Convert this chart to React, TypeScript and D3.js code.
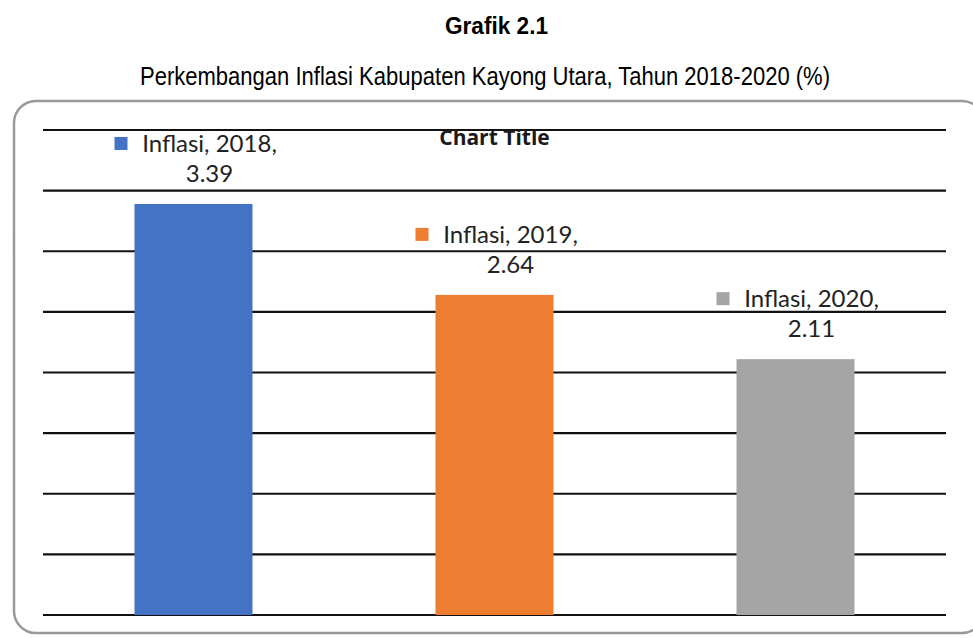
import React from "react";
import * as d3 from "d3";

const categories: string[] = ["2018", "2019", "2020"];
const seriesName = "Inflasi";
const values: number[] = [3.39, 2.64, 2.11];
const valueLabels: string[] = ["3.39", "2.64", "2.11"];
const colors: string[] = ["#4472C4", "#ED7D31", "#A5A5A5"];
const yTicks: number[] = [0, 0.5, 1, 1.5, 2, 2.5, 3, 3.5, 4];

const W = 973;
const H = 638;
const plot = { left: 43, right: 946, top: 130, bottom: 615 };

export default function App() {
  const x = d3
    .scaleBand<string>()
    .domain(categories)
    .range([plot.left, plot.right])
    .paddingInner(0.608)
    .paddingOuter(0.304);
  const y = d3.scaleLinear().domain([0, 4]).range([plot.bottom, plot.top]);

  const labelFont = "Lato, 'Open Sans', sans-serif";
  const titleFont = "'Liberation Sans', Arial, sans-serif";

  return (
    <div style={{ position: "absolute", left: 0, top: 0 }}>
      <svg width={W} height={H} style={{ display: "block", background: "#fff" }}>
        <text
          x={445}
          y={34}
          textLength={103}
          lengthAdjust="spacingAndGlyphs"
          fontFamily={titleFont}
          fontWeight="bold"
          fontSize={24}
          fill="#000"
        >
          Grafik 2.1
        </text>
        <text
          x={140}
          y={85}
          textLength={690}
          lengthAdjust="spacingAndGlyphs"
          fontFamily={titleFont}
          fontSize={26}
          fill="#000"
        >
          Perkembangan Inflasi Kabupaten Kayong Utara, Tahun 2018-2020 (%)
        </text>

        <rect
          x={14}
          y={101}
          width={970}
          height={532}
          rx={22}
          ry={22}
          fill="#fff"
          stroke="#999"
          strokeWidth={2.5}
        />

        {yTicks.map((t) => (
          <line
            key={t}
            x1={plot.left}
            x2={plot.right}
            y1={y(t)}
            y2={y(t)}
            stroke="#111"
            strokeWidth={2.2}
          />
        ))}

        <text
          x={(plot.left + plot.right) / 2}
          y={145}
          textAnchor="middle"
          fontFamily="'Open Sans', Lato, sans-serif"
          fontWeight="bold"
          fontSize={21}
          fill="#1a1a1a"
        >
          Chart Title
        </text>

        {categories.map((c, i) => {
          const bx = x(c) as number;
          const bw = x.bandwidth();
          const top = y(values[i]);
          const cx = bx + bw / 2;
          const tx = cx + 16;
          const line2 = top - 22;
          const line1 = line2 - 30;
          return (
            <g key={c}>
              <rect x={bx} y={top} width={bw} height={y(0) - top} fill={colors[i]} />
              <rect x={cx - 79} y={line1 - 15} width={13} height={13} fill={colors[i]} />
              <text
                x={tx}
                y={line1}
                textAnchor="middle"
                fontFamily={labelFont}
                fontSize={24}
                fill="#222"
              >
                {`${seriesName}, ${c},`}
              </text>
              <text
                x={tx}
                y={line2}
                textAnchor="middle"
                fontFamily={labelFont}
                fontSize={24}
                fill="#222"
              >
                {valueLabels[i]}
              </text>
            </g>
          );
        })}
      </svg>
    </div>
  );
}
